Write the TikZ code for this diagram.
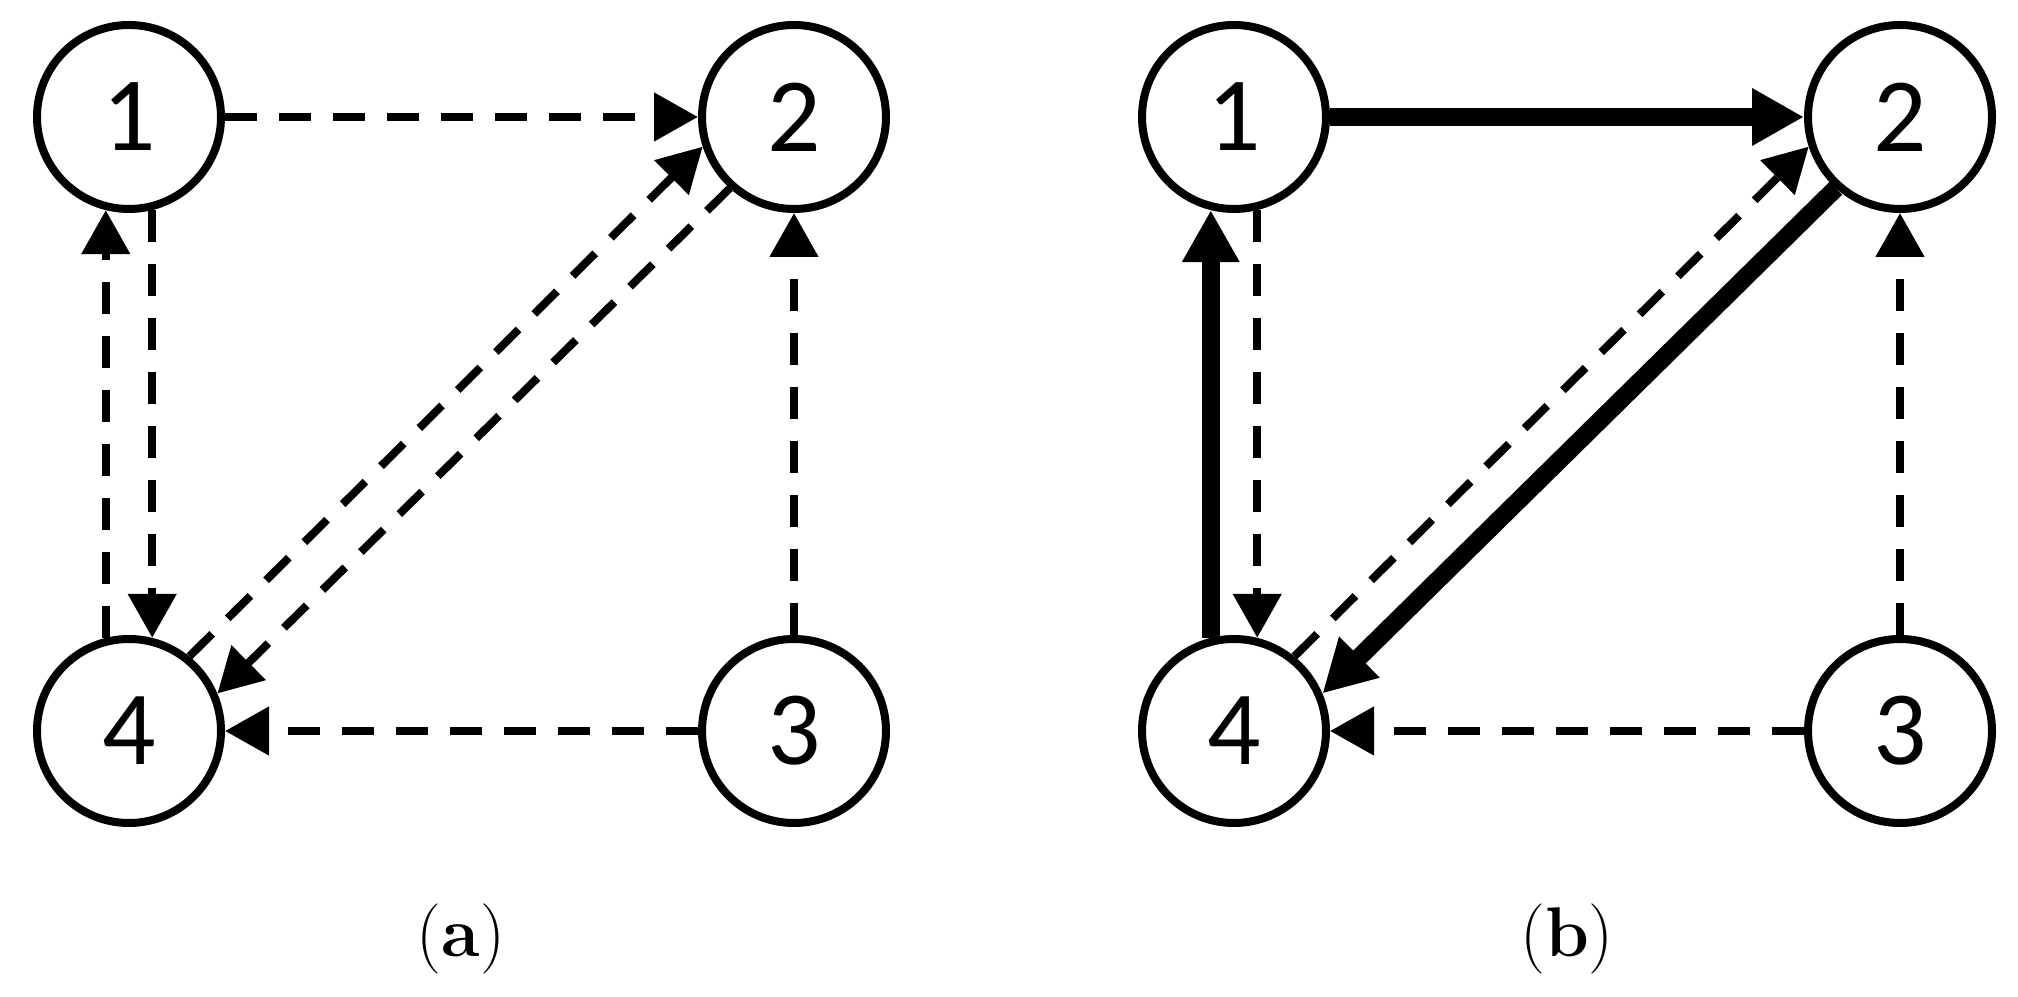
\documentclass[tikz,border=0pt]{standalone}
\usepackage{fontspec}
\newfontfamily\digitfont{Carlito}
\usetikzlibrary{arrows.meta}
\begin{document}
\begin{tikzpicture}[
  vertex/.style={circle, draw, line width=0.08cm, minimum size=1.84cm, inner sep=0pt, font=\digitfont\fontsize{30}{30}\selectfont},
  dashedge/.style={line width=0.08cm, dash pattern=on 0.32cm off 0.22cm, -{Triangle[length=0.44cm,width=0.47cm]}},
  thickedge/.style={line width=0.18cm, -{Triangle[length=0.52cm,width=0.54cm]}},
  caption/.style={font=\rmfamily\fontsize{20}{24}\selectfont}
]
\useasboundingbox (0,0) rectangle (20.18,9.96);
% (a)
\node[vertex] (a1) at (1.29,8.79) {1};
\node[vertex] (a2) at (7.94,8.79) {2};
\node[vertex] (a3) at (7.94,2.65) {3};
\node[vertex] (a4) at (1.29,2.65) {4};
\draw[dashedge] (a1) -- (a2);
\draw[dashedge] (a3) -- (a2);
\draw[dashedge] (a3) -- (a4);
\draw[dashedge] (a4.104) -- (a1.256);
\draw[dashedge] (a1.284) -- (a4.76);
\draw[dashedge] (a4.51) -- (a2.198);
\draw[dashedge] (a2.228) -- (a4.23);
\node[caption] (capa) at (4.61,0.57) {(\textbf{a})};
% (b)
\node[vertex] (b1) at (12.34,8.79) {1};
\node[vertex] (b2) at (19.00,8.79) {2};
\node[vertex] (b3) at (19.00,2.65) {3};
\node[vertex] (b4) at (12.34,2.65) {4};
\draw[thickedge] (b1) -- (b2);
\draw[dashedge] (b3) -- (b2);
\draw[dashedge] (b3) -- (b4);
\draw[thickedge] (b4.104) -- (b1.256);
\draw[dashedge] (b1.284) -- (b4.76);
\draw[dashedge] (b4.51) -- (b2.198);
\draw[thickedge] (b2.228) -- (b4.23);
\node[caption] (capb) at (15.67,0.57) {(\textbf{b})};
\end{tikzpicture}
\end{document}
